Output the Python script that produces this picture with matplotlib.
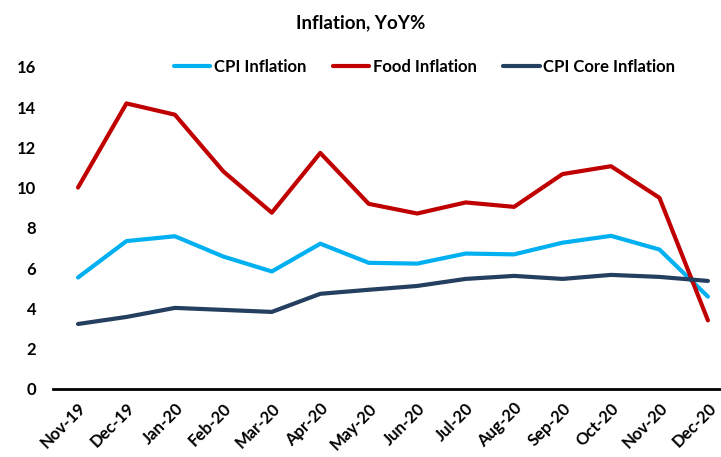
import matplotlib
matplotlib.use("Agg")
from matplotlib import pyplot as plt

# data
months = ["Nov-19", "Dec-19", "Jan-20", "Feb-20", "Mar-20", "Apr-20", "May-20",
          "Jun-20", "Jul-20", "Aug-20", "Sep-20", "Oct-20", "Nov-20", "Dec-20"]
cpi = [5.54, 7.35, 7.59, 6.58, 5.84, 7.22, 6.27, 6.23, 6.73, 6.69, 7.27, 7.61, 6.93, 4.59]
food = [10.01, 14.19, 13.63, 10.81, 8.76, 11.73, 9.20, 8.72, 9.27, 9.05, 10.68, 11.07, 9.50, 3.41]
core = [3.23, 3.58, 4.03, 3.93, 3.83, 4.73, 4.93, 5.12, 5.47, 5.62, 5.47, 5.67, 5.57, 5.37]

plt.rcParams['font.family'] = ['Lato', 'DejaVu Sans']
plt.rcParams['font.weight'] = 'bold'

fig = plt.figure(figsize=(7.21, 4.57), dpi=100)
ax = fig.add_axes([0.0735, 0.1488, 0.9265, 0.7046])

x = range(len(months))
ax.plot(x, cpi, color='#00B0F0', lw=3, label='CPI Inflation', solid_capstyle='round')
ax.plot(x, food, color='#C00000', lw=3, label='Food Inflation', solid_capstyle='round')
ax.plot(x, core, color='#243F60', lw=3, label='CPI Core Inflation', solid_capstyle='round')

ax.set_xlim(-0.516, 13.27)
ax.set_ylim(0, 16)
ax.set_yticks(range(0, 17, 2))
ax.set_xticks(list(x))
ax.set_xticklabels(months, rotation=45, ha='right', rotation_mode='anchor')
ax.tick_params(axis='both', length=0, labelsize=12)
ax.tick_params(axis='y', pad=12)
ax.tick_params(axis='x', pad=8)
for lbl in ax.get_xticklabels() + ax.get_yticklabels():
    lbl.set_fontweight('bold')

for s in ['top', 'right', 'left']:
    ax.spines[s].set_visible(False)
ax.spines['bottom'].set_linewidth(2)
ax.spines['bottom'].set_color('black')

fig.text(0.5, 0.95, 'Inflation, YoY%', ha='center', va='center',
         fontsize=13.5, fontweight='bold')
ax.legend(loc='center', bbox_to_anchor=(0.556, 1.0), ncol=3, frameon=False,
          handlelength=2.2, handletextpad=0.2, columnspacing=1.6,
          prop={'weight': 'bold', 'size': 12})

plt.savefig('out.png', dpi=100)
